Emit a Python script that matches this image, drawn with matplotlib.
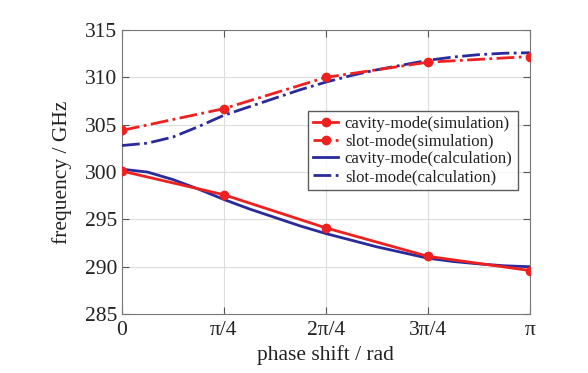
import numpy as np
import matplotlib
matplotlib.use('Agg')
import matplotlib.pyplot as plt

plt.rcParams['font.family'] = ['Liberation Serif', 'DejaVu Serif']

# simulation points
x_sim = np.array([0, 1, 2, 3, 4]) * np.pi / 4
cav_sim = [300.1, 297.6, 294.1, 291.1, 289.6]
slot_sim = [304.4, 306.7, 310.0, 311.6, 312.2]

# calculation curves (read at every pi/16)
x_calc = np.arange(17) * np.pi / 16
cav_calc = [300.3, 300.0, 299.2, 298.2, 297.1, 296.1, 295.2, 294.3, 293.5,
            292.8, 292.1, 291.5, 290.9, 290.55, 290.3, 290.1, 290.0]
slot_calc = [302.8, 303.05, 303.7, 304.8, 306.0, 306.9, 307.8, 308.7, 309.5,
             310.2, 310.8, 311.3, 311.8, 312.15, 312.4, 312.55, 312.6]

xticks = np.array([0, 1, 2, 3, 4]) * np.pi / 4
xlabels = ['0', 'π/4', '2π/4', '3π/4', 'π']

red = '#ee2020'
blue = '#2a2a9a'

fig = plt.figure(figsize=(5.88, 3.73), dpi=100)
ax = fig.add_axes([0.2075, 0.158, 0.6935, 0.7615])

ax.plot(x_sim, cav_sim, '-', color=red, lw=2, marker='o', ms=6,
        label='cavity-mode(simulation)', zorder=4)
ax.plot(x_sim, slot_sim, '-.', color=red, lw=2, marker='o', ms=6,
        label='slot-mode(simulation)', zorder=4)
ax.plot(x_calc, cav_calc, '-', color=blue, lw=2,
        label='cavity-mode(calculation)', zorder=3)
ax.plot(x_calc, slot_calc, '-.', color=blue, lw=2,
        label='slot-mode(calculation)', zorder=3)

ax.set_xlim(0, np.pi)
ax.set_ylim(285, 315)
ax.set_xticks(xticks)
ax.set_xticklabels(xlabels)
ax.set_yticks(np.arange(285, 316, 5))
ax.grid(True, color='#dddddd', lw=0.8)
ax.tick_params(direction='in', top=True, right=True, labelsize=15.5,
               color='#555555', length=5, labelcolor='#222222')
ax.tick_params(axis='x', pad=5)
for s in ax.spines.values():
    s.set_color('#777777')

ax.set_xlabel('phase shift / rad', fontsize=15.5, labelpad=4, color='#222222')
ax.set_ylabel('frequency / GHz', fontsize=15.5, labelpad=9, color='#222222')

leg = ax.legend(loc='upper right', bbox_to_anchor=(0.97, 0.715), fontsize=12,
                frameon=True, fancybox=False, edgecolor='#333333',
                handlelength=1.5, handletextpad=0.4, borderpad=0.3,
                labelspacing=0.1, borderaxespad=0)
leg.get_frame().set_linewidth(1.0)
for t in leg.get_texts():
    t.set_color('#222222')

fig.savefig('out.png', dpi=100)
